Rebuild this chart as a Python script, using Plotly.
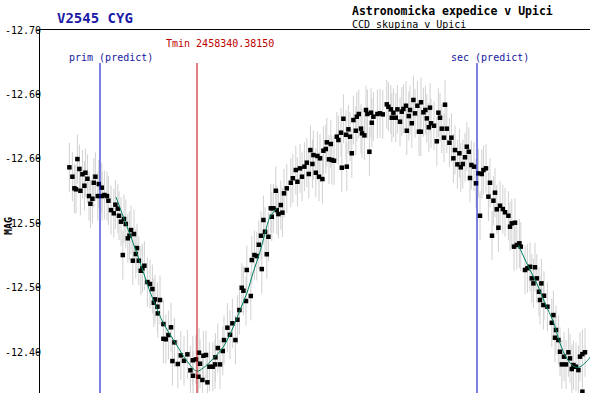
import plotly.graph_objects as go

# Time axis: JD - 2458340 ; magnitudes
jd = [0.3177,0.3192,0.3202,0.3210,0.3217,0.3227,0.3232,0.3242,0.3252,0.3257,
      0.3267,0.3275,0.3282,0.3292,0.3299,0.3307,0.3319,0.3324,0.3339,0.3340,
      0.3352,0.3365,0.3372,0.3385,0.3399,0.3407,0.3419,0.3425,0.3435,0.3444,
      0.3450,0.3459,0.3469,0.3477,0.3485,0.3494,0.3500,0.3509,0.3515,0.3524,
      0.3534,0.3542,0.3552,0.3567,0.3580,0.3592,0.3599,0.3605,0.3617,0.3619,
      0.3630,0.3647,0.3647,0.3659,0.3672,0.3685,0.3692,0.3702,0.3719,0.3734,
      0.3750,0.3767,0.3782,0.3794,0.3795,0.3810,0.3822,0.3825,0.3830,0.3842,
      0.3847,0.3860,0.3867,0.3877,0.3894,0.3905,0.3907,0.3919,0.3930,0.3944,
      0.3950,0.3967,0.3980,0.3992,0.4007,0.4017,0.4027,0.4039,0.4047,0.4060,
      0.4064,0.4084,0.4089,0.4102,0.4114,0.4124,0.4135,0.4139,0.4147,0.4155,
      0.4164,0.4172,0.4184,0.4189,0.4197,0.4209,0.4214,0.4222,0.4234,0.4242,
      0.4250,0.4264,0.4284,0.4294,0.4309,0.4317,0.4330,0.4340,0.4352,0.4364,
      0.4374,0.4382,0.4392,0.4397,0.4409,0.4417,0.4425,0.4430,0.4442,0.4447,
      0.4459,0.4464,0.4475,0.4484,0.4489,0.4500,0.4514,0.4522,0.4535,0.4539,
      0.4547,0.4560,0.4564,0.4572,0.4580,0.4589,0.4597,0.4609,0.4614,0.4624,
      0.4635,0.4640,0.4652,0.4660,0.4667,0.4677,0.4685,0.4689,0.4697,0.4717,
      0.4730,0.4744,0.4764,0.4772,0.4784,0.4789,0.4797,0.4809,0.4817,0.4830,
      0.4839,0.4847,0.4860,0.4864,0.4874,0.4880,0.4889,0.4897,0.4905,0.4917,
      0.4925,0.4934,0.4935,0.4947,0.4957,0.4964,0.4974,0.4980,0.4985,0.5000,
      0.5014,0.5022,0.5030,0.5039,0.5050,0.5055,0.5064,0.5077,0.5087,0.5097,
      0.5105,0.5117,0.5127,0.5134,0.5144,0.5155,0.5164,0.5174,0.5180,0.5187,
      0.5200,0.5210,0.5222,0.5230,0.5239,0.5247,0.5260,0.5272,0.5280,0.5290,
      0.5297,0.5305,0.5314,0.5322,0.5330,0.5344,0.5355,0.5372,0.5380,0.5389,
      0.5400,0.5405,0.5414,0.5427,0.5434,0.5455,0.5467,0.5480,0.5489,0.5497,
      0.5505,0.5514,0.5525,0.5530,0.5537,0.5547,0.5550,0.5567,0.5589,0.5597,
      0.5605,0.5610,0.5622,0.5630,0.5639,0.5650,0.5660,0.5672,0.5680,0.5689,
      0.5697,0.5710,0.5722,0.5730,0.5742,0.5755,0.5742]
mag = [-12.5934,-12.5861,-12.5771,-12.5763,-12.5998,-12.5921,-12.5752,-12.5880,-12.5791,-12.5892,
       -12.5845,-12.5711,-12.5651,-12.5690,-12.5814,-12.5861,-12.5711,-12.5804,-12.5776,-12.5711,
       -12.5719,-12.5711,-12.5675,-12.5602,-12.5577,-12.5644,-12.5613,-12.5558,-12.5512,-12.5253,
       -12.5533,-12.5494,-12.5383,-12.5403,-12.5447,-12.5209,-12.5416,-12.5261,-12.5307,-12.5209,
       -12.5131,-12.5150,-12.5170,-12.5043,-12.5028,-12.4989,-12.4883,-12.4909,-12.4852,-12.4800,
       -12.4904,-12.4717,-12.4603,-12.4599,-12.4632,-12.4692,-12.4430,-12.4575,-12.4407,-12.4474,
       -12.4432,-12.4482,-12.4358,-12.4436,-12.4316,-12.4443,-12.4308,-12.4495,-12.4409,-12.4283,
       -12.4471,-12.4477,-12.4265,-12.4386,-12.4386,-12.4404,-12.4459,-12.4531,-12.4404,-12.4508,
       -12.4593,-12.4689,-12.4634,-12.4723,-12.4593,-12.4751,-12.4826,-12.4999,-12.4976,-12.4896,
       -12.5137,-12.4935,-12.5214,-12.5253,-12.5245,-12.5333,-12.5403,-12.5144,-12.5525,-12.5434,
       -12.5259,-12.5395,-12.5616,-12.5550,-12.5616,-12.5752,-12.5602,-12.5571,-12.5641,-12.5582,
       -12.5732,-12.5771,-12.5814,-12.5849,-12.5913,-12.5822,-12.5926,-12.5861,-12.5939,-12.5970,
       -12.5882,-12.6068,-12.5960,-12.6029,-12.5892,-12.6022,-12.5861,-12.6004,-12.5843,-12.6063,
       -12.6076,-12.6128,-12.5996,-12.6115,-12.5991,-12.5985,-12.6172,-12.6146,-12.6203,-12.5931,
       -12.6311,-12.6187,-12.5939,-12.6229,-12.6172,-12.6043,-12.6301,-12.6218,-12.6327,-12.6348,
       -12.6234,-12.6198,-12.6182,-12.6379,-12.6348,-12.6055,-12.6358,-12.6280,-12.6327,-12.6348,
       -12.6353,-12.6345,-12.6423,-12.6404,-12.6384,-12.6319,-12.6358,-12.6319,-12.6384,-12.6288,
       -12.6366,-12.6387,-12.6412,-12.6218,-12.6332,-12.6379,-12.6276,-12.6457,-12.6353,-12.6412,
       -12.6210,-12.6210,-12.6439,-12.6361,-12.6379,-12.6314,-12.6245,-12.6397,-12.6276,-12.6257,
       -12.6136,-12.6358,-12.6319,-12.6234,-12.6164,-12.6420,-12.6234,-12.6125,-12.6164,-12.6004,
       -12.6068,-12.5957,-12.6043,-12.5934,-12.5960,-12.6012,-12.6094,-12.6055,-12.5851,-12.5952,
       -12.5939,-12.5810,-12.5887,-12.5558,-12.5882,-12.5913,-12.5926,-12.5706,-12.5814,-12.5403,
       -12.5675,-12.5737,-12.5608,-12.5465,-12.5636,-12.5610,-12.5585,-12.5558,-12.5473,-12.5499,
       -12.5318,-12.5504,-12.5331,-12.5344,-12.5318,-12.5137,-12.5150,-12.5162,-12.5072,-12.5033,
       -12.5158,-12.5072,-12.4968,-12.4904,-12.5033,-12.4865,-12.4937,-12.4852,-12.4727,-12.4787,
       -12.4611,-12.4671,-12.4593,-12.4502,-12.4404,-12.4464,-12.4404,-12.4498,-12.4451,-12.4368,
       -12.4399,-12.4386,-12.4360,-12.4464,-12.4484,-12.4498,-12.4192]
mag_err = 0.019

# Fitted minima curves (two segments)
fit1_jd = [0.3410,0.3462,0.3514,0.3555,0.3580,0.3605,0.3647,0.3705,0.3764,0.3814,0.3847,
           0.3897,0.3947,0.3997,0.4030,0.4064,0.4097,0.4130,0.4155,0.4180,0.4214]
fit1_mag = [-12.5703,-12.5486,-12.5269,-12.5082,-12.4968,-12.4873,-12.4723,-12.4575,-12.4432,
            -12.4352,-12.4378,-12.4451,-12.4541,-12.4696,-12.4826,-12.4956,-12.5123,-12.5279,
            -12.5422,-12.5548,-12.5616]
fit2_jd = [0.5422,0.5472,0.5514,0.5555,0.5597,0.5630,0.5664,0.5697,0.5722,0.5747,0.5772,0.5780]
fit2_mag = [-12.5331,-12.5162,-12.5033,-12.4878,-12.4735,-12.4568,-12.4451,-12.4391,-12.4381,
            -12.4404,-12.4443,-12.4461]

prim_pred = 0.3330
tmin = 0.38150
sec_pred = 0.5215
tmin_label = "Tmin 2458340.38150"

y_tickvals = [-12.70, -12.65, -12.60, -12.55, -12.50, -12.45]
y_ticktext = ["-12.70", "-12.60", "-12.60", "-12.50", "-12.50", "-12.40"]

x_range = [0.303, 0.578]
y_range = [-12.4182, -12.70]

MONO = "DejaVu Sans Mono, Liberation Mono, monospace"

fig = go.Figure()
fig.add_trace(go.Scatter(
    x=jd, y=mag, mode="markers",
    marker=dict(symbol="square", size=4.5, color="black"),
    error_y=dict(type="constant", value=mag_err, color="#d0d0d0", thickness=1, width=0),
    hoverinfo="skip", showlegend=False))
for fx, fy in [(fit1_jd, fit1_mag), (fit2_jd, fit2_mag)]:
    fig.add_trace(go.Scatter(x=fx, y=fy, mode="lines",
                             line=dict(color="#008060", width=1, shape="spline"),
                             showlegend=False, hoverinfo="skip"))

line_top = 0.909
for xv, col in [(prim_pred, "#0000c0"), (tmin, "#c00000"), (sec_pred, "#0000c0")]:
    fig.add_shape(type="line", xref="x", yref="paper", x0=xv, x1=xv, y0=0, y1=line_top,
                  line=dict(color=col, width=1), layer="above")

fig.add_annotation(x=0.3385, y=-12.679, xref="x", yref="y", text="prim (predict)",
                   xanchor="center", yanchor="middle",
                   showarrow=False, font=dict(family=MONO, size=10, color="#1818a0"))
fig.add_annotation(x=0.5280, y=-12.679, xref="x", yref="y", text="sec (predict)",
                   xanchor="center", yanchor="middle",
                   showarrow=False, font=dict(family=MONO, size=10, color="#1818a0"))
fig.add_annotation(x=0.3932, y=-12.6899, xref="x", yref="y", text=tmin_label,
                   xanchor="center", yanchor="middle",
                   showarrow=False, font=dict(family=MONO, size=10, color="#c00000"))

fig.add_annotation(x=0.1, y=1.033, xref="paper", yref="paper", text="<b>V2545 CYG</b>",
                   xanchor="center", yanchor="middle",
                   showarrow=False, font=dict(family=MONO, size=14, color="#1a1aa6"))
fig.add_annotation(x=0.5636, y=1.051, xref="paper", yref="paper", xanchor="left",
                   yanchor="middle", text="<b>Astronomicka expedice v Upici</b>",
                   showarrow=False, font=dict(family=MONO, size=11.5, color="black"))
fig.add_annotation(x=0.5636, y=1.0138, xref="paper", yref="paper", xanchor="left",
                   yanchor="middle", text="CCD skupina v Upici",
                   showarrow=False, font=dict(family=MONO, size=10, color="black"))
fig.add_annotation(x=-0.0582, y=0.46, xref="paper", yref="paper", text="<b>MAG</b>",
                   textangle=-90, showarrow=False, xanchor="center", yanchor="middle",
                   font=dict(family=MONO, size=10, color="black"))

fig.update_layout(
    width=590, height=393,
    margin=dict(l=40, r=0, t=30, b=0),
    paper_bgcolor="white", plot_bgcolor="white",
    xaxis=dict(range=x_range, side="top", showline=True, linecolor="black", linewidth=1,
               showticklabels=False, ticks="", showgrid=False, zeroline=False),
    yaxis=dict(range=y_range, showline=True, linecolor="black", linewidth=1,
               tickvals=y_tickvals, ticktext=y_ticktext, ticks="outside", ticklen=3,
               ticklabelstandoff=-7,
               tickcolor="black", showgrid=False, zeroline=False, automargin=False,
               tickfont=dict(family=MONO, size=10, color="black")),
)

fig.write_html("out.html", config={"displayModeBar": False},
               post_script="document.body.style.margin='0';")
